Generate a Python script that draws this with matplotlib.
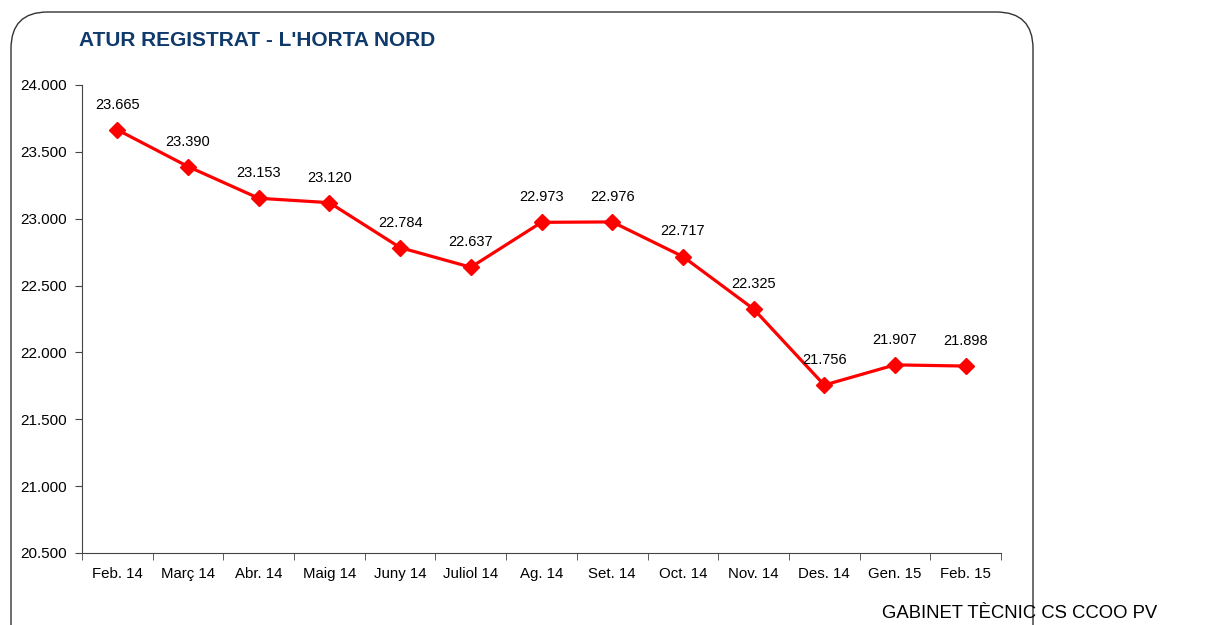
import matplotlib
matplotlib.use("Agg")
import matplotlib.pyplot as plt
from matplotlib.patches import FancyBboxPatch
import numpy

months = ["Feb. 14", "Març 14", "Abr. 14", "Maig 14", "Juny 14", "Juliol 14", "Ag. 14",
          "Set. 14", "Oct. 14", "Nov. 14", "Des. 14", "Gen. 15", "Feb. 15"]
atur = [23665, 23390, 23153, 23120, 22784, 22637, 22973, 22976, 22717, 22325, 21756, 21907, 21898]
y_ticks = [20500, 21000, 21500, 22000, 22500, 23000, 23500, 24000]


def fmt(v):
    return "{:,}".format(int(v)).replace(",", ".")


plt.rcParams['font.family'] = ['Liberation Sans', 'DejaVu Sans']

fig = plt.figure(figsize=(12.2, 6.25), dpi=100)

# rounded frame around the chart
frame = FancyBboxPatch((11 / 1220, -0.1), (1033 - 11) / 1220, 1.1 - 12 / 625,
                       boxstyle="round,pad=0,rounding_size=0.03",
                       transform=fig.transFigure, fill=False, edgecolor="#333333",
                       linewidth=1.0, mutation_aspect=1220 / 625)
fig.patches.append(frame)

ax = fig.add_axes([82 / 1220, 1 - 553 / 625, (1001 - 82) / 1220, (553 - 85) / 625])

x = numpy.arange(len(months))
ax.plot(x, atur, color="#ff0000", linewidth=2.3, marker="D", markersize=8,
        markeredgecolor="#ff0000", markerfacecolor="#ff0000")
for i in range(len(months)):
    ax.annotate(fmt(atur[i]), (x[i], atur[i]), xytext=(0, 13), textcoords="offset points",
                ha="center", va="bottom", fontsize=10.5, color="black")

ax.set_xlim(-0.5, len(months) - 0.5)
ax.set_ylim(20500, 24000)
ax.set_yticks(y_ticks)
ax.set_yticklabels([fmt(v) for v in y_ticks], fontsize=11)
ax.set_xticks(x)
ax.set_xticklabels(months, fontsize=10.8)
ax.set_xticks(numpy.arange(-0.5, len(months), 1.0), minor=True)
ax.tick_params(axis="x", which="major", length=0, pad=10)
ax.tick_params(axis="x", which="minor", length=5, direction="out", color="#444444")
ax.tick_params(axis="y", length=5, direction="out", color="#444444", pad=6)
ax.spines["top"].set_visible(False)
ax.spines["right"].set_visible(False)
ax.spines["left"].set_color("#444444")
ax.spines["bottom"].set_color("#444444")

fig.text(79 / 1220, 1 - 40 / 625, "ATUR REGISTRAT - L'HORTA NORD", fontsize=15,
         fontweight="bold", color="#0f3a6b", ha="left", va="center")
fig.text(882 / 1220, 1 - 622 / 625, "GABINET TÈCNIC CS CCOO PV", fontsize=13.3,
         color="black", ha="left", va="bottom")

fig.savefig("out.png", dpi=100)
